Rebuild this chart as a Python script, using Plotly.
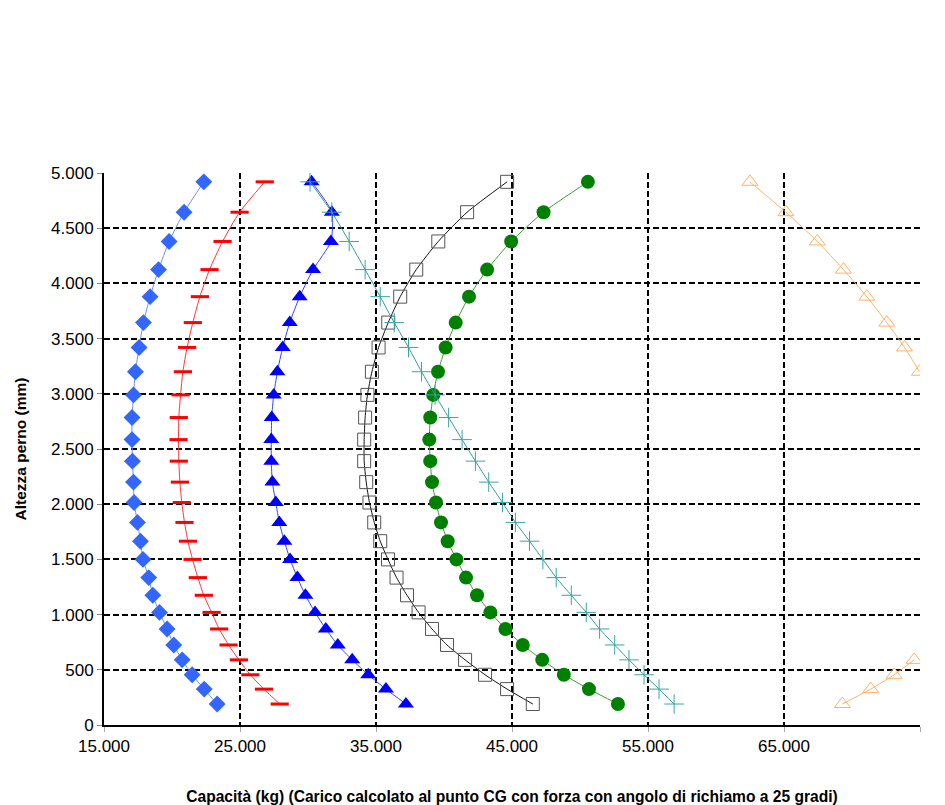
import plotly.graph_objects as go

# Shared heights (mm)
altezza = [190, 325, 455, 590, 725, 870, 1020, 1175, 1335, 1500, 1665, 1835, 2015,
           2200, 2390, 2585, 2785, 2990, 3200, 3420, 3645, 3880, 4125, 4380, 4645, 4920]

# Capacities (kg) per series
serie_rombi = [23320, 22370, 21480, 20750, 20130, 19640, 19080, 18590, 18290, 17870, 17680, 17460, 17210,
               17170, 17090, 17060, 17060, 17170, 17310, 17580, 17900, 18390, 19010, 19790, 20890, 22340]
serie_trattini = [27920, 26760, 25760, 24920, 24160, 23470, 22910, 22340, 21900, 21510, 21170, 20920, 20720,
                  20580, 20500, 20480, 20500, 20630, 20800, 21110, 21530, 22050, 22760, 23720, 24970, 26820]
serie_triangoli = [37200, 35730, 34430, 33250, 32190, 31310, 30520, 29810, 29220, 28680, 28260, 27890, 27630,
                   27380, 27300, 27300, 27330, 27480, 27750, 28140, 28660, 29390, 30370, 31680, 31750, 30260]
serie_quadrati = [46530, 44640, 43020, 41550, 40220, 39120, 38130, 37280, 36510, 35880, 35310, 34870, 34520,
                  34280, 34130, 34130, 34200, 34370, 34700, 35190, 35900, 36780, 37960, 39580, 41700, 44640]
serie_cerchi = [52790, 50660, 48810, 47220, 45790, 44520, 43410, 42430, 41620, 40910, 40270, 39780, 39410,
                39120, 38990, 38920, 38990, 39210, 39560, 40120, 40860, 41840, 43170, 44940, 47320, 50580]
serie_croci = [56920, 55810, 54710, 53600, 52550, 51440, 50460, 49360, 48250, 47270, 46290, 45250, 44300,
               43290, 42310, 41330, 40340, 39340, 38350, 37390, 36340, 35310, 34200, 33030, 31750, 30150]
# Orange series: middle values lie beyond the 75.000 axis limit (not visible in the chart)
serie_arancio = [69290, 71380, 73100, 74570, None, None, None, None, None, None, None, None, None,
                 None, None, None, None, None, 74960, 73860, 72560, 71090, 69370, 67450, 65140, 62490]

x_ticks = [15000, 25000, 35000, 45000, 55000, 65000, 75000]
x_tick_labels = ["15.000", "25.000", "35.000", "45.000", "55.000", "65.000", "75.000"]
y_ticks = [0, 500, 1000, 1500, 2000, 2500, 3000, 3500, 4000, 4500, 5000]
y_tick_labels = ["0", "500", "1.000", "1.500", "2.000", "2.500", "3.000", "3.500", "4.000", "4.500", "5.000"]

FONT = "Liberation Sans, Arial, sans-serif"

fig = go.Figure()

def add(xs, line_color, marker):
    fig.add_trace(go.Scatter(
        x=xs, y=altezza, mode="lines+markers",
        line=dict(color=line_color, width=1, shape="spline", smoothing=0.6),
        marker=marker, showlegend=False, cliponaxis=True,
        connectgaps=False,
    ))

add(serie_rombi, "#6f8ff5", dict(symbol="diamond", size=13, color="#3366ff", line=dict(width=0)))
add(serie_trattini, "#ff3333", dict(symbol="line-ew", size=13, color="#ff0000",
                                    line=dict(width=3, color="#ff0000")))
add(serie_triangoli, "#3344ff", dict(symbol="triangle-up", size=14, color="#0000ff", line=dict(width=0)))
add(serie_quadrati, "#111111", dict(symbol="square-open", size=13, color="#555555",
                                    line=dict(width=1, color="#555555")))
add(serie_cerchi, "#3a9a3a", dict(symbol="circle", size=14, color="#008000", line=dict(width=0)))
add(serie_croci, "#2e9a9a", dict(symbol="cross-thin", size=14, color="#3aa5a5",
                                 line=dict(width=1, color="#3aa5a5")))
add(serie_arancio, "#ffb266", dict(symbol="triangle-up-open", size=14, color="#ffb266",
                                   line=dict(width=1, color="#ffb266")))

fig.update_layout(
    width=937, height=797,
    margin=dict(l=96, r=25, t=165, b=80),
    paper_bgcolor="white", plot_bgcolor="white",
    font=dict(family=FONT, color="black"),
    xaxis=dict(
        range=[15000, 75000], tickvals=x_ticks, ticktext=x_tick_labels,
        showgrid=True, gridcolor="black", gridwidth=2, griddash="6px,3px",
        showline=True, linecolor="black", linewidth=2, mirror=False,
        ticks="outside", ticklen=5, tickcolor="#aaaaaa",
        tickfont=dict(family=FONT, size=17, color="black"),
        zeroline=False, automargin=False,
        title=dict(text="<b>Capacità (kg) (Carico calcolato al punto CG con forza con angolo di richiamo a 25 gradi)</b>",
                   font=dict(family=FONT, size=15.6, color="black"), standoff=36),
    ),
    yaxis=dict(
        range=[0, 5000], tickvals=y_ticks, ticktext=y_tick_labels,
        showgrid=True, gridcolor="black", gridwidth=2, griddash="6px,3px",
        showline=True, linecolor="black", linewidth=2, mirror=False,
        ticks="outside", ticklen=5, tickcolor="#888888",
        tickfont=dict(family=FONT, size=17, color="black"),
        zeroline=False, automargin=False,
        title=dict(text="<b>Altezza perno (mm)</b>",
                   font=dict(family=FONT, size=15.5, color="black"), standoff=21),
    ),
)

fig.write_html("out.html")
